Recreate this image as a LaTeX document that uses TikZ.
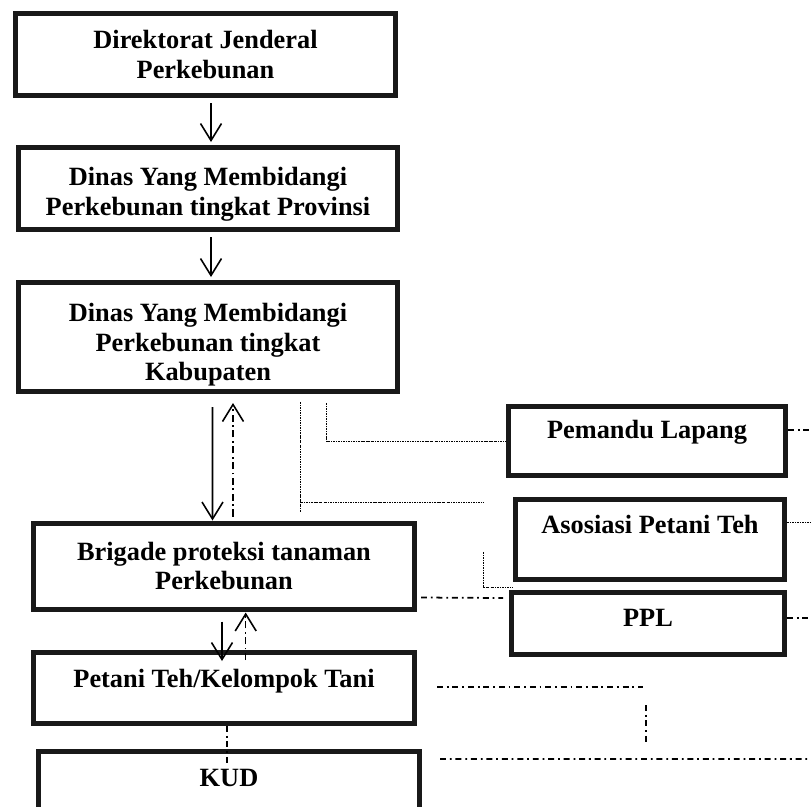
\documentclass[tikz,border=0pt]{standalone}
\usepackage{fontspec}
\setmainfont{Liberation Serif}
\usetikzlibrary{positioning}
\usetikzlibrary{calc}
\usetikzlibrary{arrows.meta,arrows}
\colorlet{orgLineColor}{black!90}

\begin{document}
\begin{tikzpicture}[x=0.02cm, y=-0.02cm,
        box/.style={draw=orgLineColor, line width=0.1cm, inner sep=0, outer sep=0.05cm, align=center,
          font=\fontsize{15}{17}\selectfont\bfseries},
        up/.style={text height=10pt, text depth=#1},
        arr/.style={line width=0.9pt, -{Straight Barb[length=3.4mm, width=4.2mm]}},
        arrdd/.style={arr, dash pattern=on 4pt off 2pt on 1pt off 2pt},
        dd/.style={line width=1pt, dash pattern=on 3.4pt off 2.2pt on 1pt off 2.2pt},
        fine/.style={line width=0.4pt, dash pattern=on 1.2pt off 0.6pt on 0.4pt off 0.6pt}
      ]
    \useasboundingbox (0,0) rectangle (811,806);
    % left column
    \node[box, minimum width=380*0.02cm, minimum height=82*0.02cm] (dirjen) at (205.5,54.5)
      {Direktorat Jenderal\\Perkebunan};
    \node[box, text height=33pt, text depth=2pt, minimum width=379*0.02cm, minimum height=82*0.02cm] (provinsi) at (208,188.5)
      {Dinas Yang Membidangi\\Perkebunan tingkat Provinsi};
    \node[box, text height=50pt, text depth=0pt, minimum width=379*0.02cm, minimum height=109*0.02cm] (kabupaten) at (208,337)
      {Dinas Yang Membidangi\\Perkebunan tingkat\\Kabupaten};
    \node[box, minimum width=381*0.02cm, minimum height=86*0.02cm] (brigade) at (224,566)
      {Brigade proteksi tanaman\\Perkebunan};
    \node[box, up=11pt, minimum width=381*0.02cm, minimum height=71*0.02cm] (petani) at (224,688)
      {Petani Teh/Kelompok Tani};
    \node[box, up=5pt, minimum width=381*0.02cm, minimum height=60.5*0.02cm] (kud) at (229,781.75)
      {KUD};
    % right column
    \node[box, up=13pt, minimum width=277*0.02cm, minimum height=69*0.02cm] (pemandu) at (647,441)
      {Pemandu Lapang};
    \node[box, up=17pt, minimum width=269*0.02cm, minimum height=80*0.02cm] (asosiasi) at (650,539.5)
      {Asosiasi Petani Teh};
    \node[box, up=7pt, minimum width=273*0.02cm, minimum height=62*0.02cm] (ppl) at (648,623.5)
      {PPL};

    % free ends
    \coordinate (aTop) at (300.7,402);
    \coordinate (aBot) at (300.7,513);
    \coordinate (aEnd) at (483,502);
    \coordinate (cTop) at (483,552);
    \coordinate (tStub) at (643,687);
    \coordinate (vTop) at (646,705);
    \coordinate (vBot) at (646,743);
    \coordinate (pemOut) at (811,430);
    \coordinate (asoOut) at (811,522);
    \coordinate (pplOut) at (811,618);
    \coordinate (kudOut) at (811,759);

    % arrows
    \draw[arr] ($(dirjen.south)+(5.5,5)$) -- ($(provinsi.north)+(3,-3)$);
    \draw[arr] ($(provinsi.south)+(3,5)$) -- ($(kabupaten.north)+(3,-3)$);
    \draw[arr] ($(kabupaten.south)+(4.5,13)$) -- ($(brigade.north)+(-11.5,0)$);
    \draw[arrdd] ($(brigade.north)+(9,-4)$) -- ($(kabupaten.south)+(25,9)$);
    \draw[arr] ($(brigade.south)+(-2,10)$) -- ($(petani.north)+(-2,11)$);
    \draw[arrdd] ($(petani.north)+(21.7,10)$) -- ($(brigade.south)+(21.7,1)$);

    % dotted links
    \draw[fine] (aTop) -- (aBot);
    \draw[fine] (aTop |- aEnd) -- (aEnd);
    \draw[fine] ($(kabupaten.south)+(118.7,9)$) |- (pemandu.west);
    \draw[fine] (cTop) |- ($(asosiasi.south west)+(0,5)$);
    \draw[fine] (asosiasi.east |- asoOut) -- (asoOut);
    \draw[dd, line width=0.6pt] ($(petani.south)+(3,0)$) -- ($(kud.north)+(-2,14)$);

    % dash-dot links
    \draw[dd] ($(brigade.south east)+(4,-14)$) -- ($(ppl.north west)+(-6,8)$);
    \draw[dd] (pemandu.east |- pemOut) -- (pemOut);
    \draw[dd] (ppl.east |- pplOut) -- (pplOut);
    \draw[dd] ($(petani.east)+(20,-1)$) -- (tStub);
    \draw[dd] (vTop) -- (vBot);
    \draw[dd] ($(kud.north east)+(18,10)$) -- (kudOut);
  \end{tikzpicture}
\end{document}
